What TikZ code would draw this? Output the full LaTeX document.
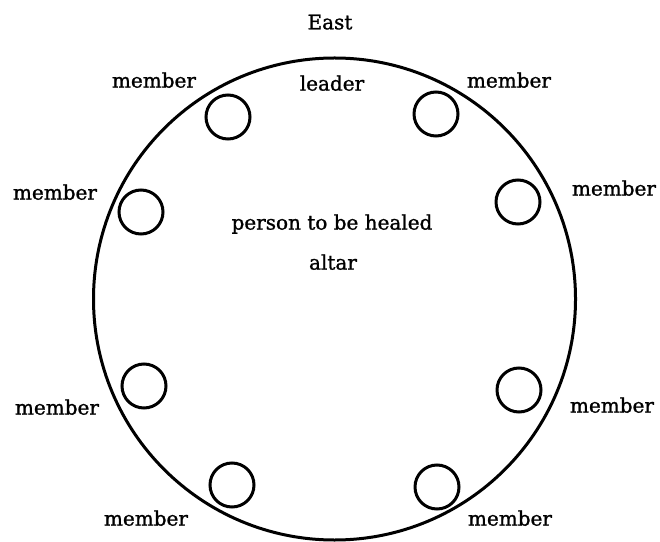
\documentclass[tikz,border=0pt]{standalone}
\usepackage{fontspec}
\setmainfont{DejaVu Serif}
\newfontfamily\lblfont{DejaVu Serif}[FakeBold=1.2]
\begin{document}
\begin{tikzpicture}[x=1pt,y=1pt,
  seat/.style={draw=black,line width=3pt,circle,minimum size=44pt,inner sep=0pt},
  lbl/.style={font=\lblfont\fontsize{20}{24}\selectfont,inner sep=0pt,text depth=0pt}]
\useasboundingbox (0,0) rectangle (660,541);
\node[draw=black,line width=3pt,circle,minimum size=482pt,inner sep=0pt] (ring) at (334.5,242) {};
\node[seat] (s1) at (228,424) {};
\node[seat] (s2) at (436,427) {};
\node[seat] (s3) at (141,329) {};
\node[seat] (s4) at (518,339) {};
\node[seat] (s5) at (144,155) {};
\node[seat] (s6) at (519,151) {};
\node[seat] (s7) at (232,56) {};
\node[seat] (s8) at (437,54) {};
\node[lbl] (east) at (330,519) {East};
\node[lbl] (leader) at (332,458) {leader};
\node[lbl] (person) at (332,319) {person to be healed};
\node[lbl] (altar) at (333,279) {altar};
\node[lbl] (m1) at (154,461) {member};
\node[lbl] (m2) at (509,461) {member};
\node[lbl] (m3) at (55,349) {member};
\node[lbl] (m4) at (614,353) {member};
\node[lbl] (m5) at (57,134) {member};
\node[lbl] (m6) at (612,136) {member};
\node[lbl] (m7) at (146,23) {member};
\node[lbl] (m8) at (510,23) {member};
\end{tikzpicture}
\end{document}
